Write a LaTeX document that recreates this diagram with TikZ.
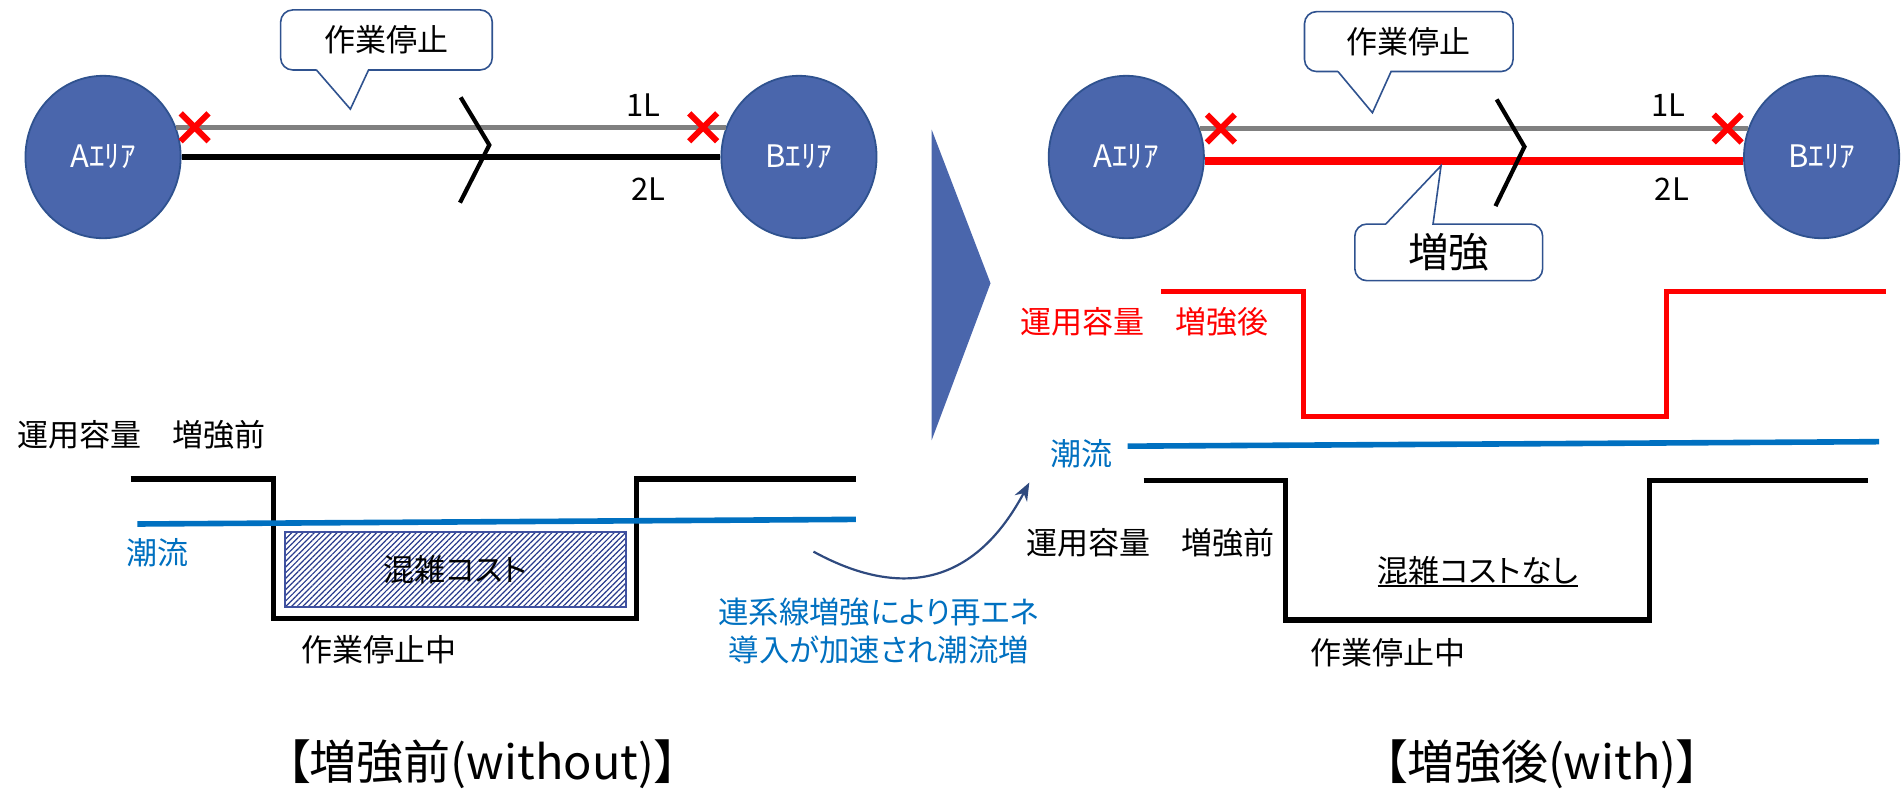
\documentclass[tikz,border=0pt]{standalone}
\usepackage{fontspec}
\setmainfont{Noto Sans CJK JP}[RawFeature={+palt}]
\usetikzlibrary{shapes.geometric,arrows.meta,patterns.meta}

\definecolor{areablue}{RGB}{74,102,172}
\definecolor{areaedge}{RGB}{47,82,143}
\definecolor{flowblue}{RGB}{0,112,192}
\definecolor{hatchblue}{RGB}{40,58,140}
\definecolor{costedge}{RGB}{63,81,160}
\definecolor{arrowblue}{RGB}{47,74,127}
\definecolor{offline}{RGB}{128,128,128}

\tikzset{
  area/.style={ellipse, fill=areablue, draw=areaedge, line width=0.9pt,
    minimum width=77.6pt, minimum height=81.2pt, inner sep=0pt,
    text=white, font=\fontsize{15.5}{18}\selectfont},
  txt/.style={inner sep=0pt, font=\fontsize{15.5}{18}\selectfont},
  titletxt/.style={inner sep=0pt, font=\fontsize{23.5}{28}\selectfont},
  line1/.style={offline, line width=2.4pt},
  line2/.style={black, line width=2.8pt},
  boosted/.style={red, line width=3.8pt},
  cross/.style={red, line width=3pt},
  breakmark/.style={black, line width=2.1pt},
  balloon/.style={draw=areaedge, line width=0.8pt, fill=white},
  capline/.style={line width=2.6pt},
  flowline/.style={flowblue, line width=2.8pt},
  costbox/.style={draw=costedge, line width=1pt,
    pattern={Lines[angle=45,distance=2pt,line width=0.6pt]}, pattern color=hatchblue,
    minimum width=170.8pt, minimum height=37.9pt, inner sep=0pt,
    font=\fontsize{15.5}{18}\selectfont}
}

\begin{document}
\begin{tikzpicture}[x=0.6062pt, y=-0.6062pt]
    \useasboundingbox (0,0) rectangle (1568,652);

    % before reinforcement: network
    \node[area] (aL) at (85,129.5) {Aｴﾘｱ};
    \node[area] (bL) at (659,129.5) {Bｴﾘｱ};
    \draw[line1] (aL.22) -- (bL.158);
    \draw[line2] (aL.east) -- (bL.west);
    \draw[breakmark] (380,80.3) -- (403.6,119.6) -- (379.4,167.2);
    \node[txt] (oneL) at (531,87) {1L};
    \node[txt] (twoL) at (535,156) {2L};
    \draw[balloon] (261,57.7) -- (289,90) -- (304,57.7) [rounded corners=6pt] -- (406,57.7)
        -- (406,8.2) -- (231.5,8.2) -- (231.5,57.7) -- (261,57.7);
    \node[txt] (stopL) at (318.7,33) {作業停止};

    % before reinforcement: capacity and flow
    \node[txt, anchor=west] (capL) at (13.8,358.8) {運用容量　増強前};
    \draw[capline] (107.7,395) -- (225.4,395) -- (225.4,510) -- (524.8,510) -- (524.8,395) -- (706,395);
    \draw[flowline] (113.3,432.2) -- (706,428.4);
    \node[txt, text=flowblue] (flowL) at (130,456) {潮流};
    \node[costbox] (cost) at (375.6,469.8) {混雑コスト};
    \node[txt] (outL) at (313,536) {作業停止中};
    \node[titletxt] (titleL) at (397.7,630) {【増強前(without)】};

    % big arrow and note
    \fill[areablue] (768.5,107) -- (817,233.6) -- (768.5,363) -- cycle;
    \coordinate (arrS) at (671,455);
    \coordinate (arrE) at (849,398);
    \draw[arrowblue, line width=1.1pt, -{Stealth[length=9pt,width=7pt]}]
        (arrS) .. controls (735,490) and (800,490) .. (arrE);
    \node[txt, text=flowblue, align=center, font=\fontsize{15.2}{18.8}\selectfont] (note)
        at (725,520.5) {連系線増強により再エネ\\導入が加速され潮流増};

    % after reinforcement: network
    \node[area] (aR) at (929,129.5) {Aｴﾘｱ};
    \node[area] (bR) at (1502.5,129.5) {Bｴﾘｱ};
    \draw[line1] (aR.21) -- (bR.159);
    \draw[boosted] (aR.-3) -- (bR.183);
    \draw[breakmark] (1234.5,82) -- (1257.4,121) -- (1233.5,170);
    \node[txt] (oneR) at (1376,87) {1L};
    \node[txt] (twoR) at (1379,156) {2L};
    \draw[balloon] (1103.6,59) -- (1132,93) -- (1147.4,59) [rounded corners=6pt] -- (1248,59)
        -- (1248,9.6) -- (1076,9.6) -- (1076,59) -- (1103.6,59);
    \node[txt] (stopR) at (1162,34) {作業停止};
    \draw[balloon] (1143,184.8) -- (1188.6,136.7) -- (1182,184.8) [rounded corners=6pt] -- (1272.4,184.8)
        -- (1272.4,231.5) -- (1117.5,231.5) -- (1117.5,184.8) -- (1143,184.8);
    \node[inner sep=0pt, font=\fontsize{20.3}{24}\selectfont] (boost) at (1195,208) {増強};

    \foreach \x/\y in {160.5/105, 580/105, 1007/106, 1425/106}
        \draw[cross] (\x-11.5,\y-11.5) -- (\x+11.5,\y+11.5) (\x-11.5,\y+11.5) -- (\x+11.5,\y-11.5);

    % after reinforcement: capacity and flow
    \draw[capline, red] (957.5,240.6) -- (1075,240.6) -- (1075,343.7) -- (1374.7,343.7) -- (1374.7,240.6) -- (1555.7,240.6);
    \node[txt, text=red] (capR) at (944.4,265.3) {運用容量　増強後};
    \draw[flowline] (930,368) -- (1550,364.3);
    \node[txt, text=flowblue] (flowR) at (892,374) {潮流};
    \draw[capline] (943.3,396.5) -- (1060.4,396.5) -- (1060.4,511.4) -- (1360.4,511.4) -- (1360.4,396.5) -- (1540.6,396.5);
    \node[txt] (capR2) at (949,448) {運用容量　増強前};
    \node[txt] (nocost) at (1219,471) {混雑コストなし};
    \draw[line width=0.9pt] (nocost.south west) -- (nocost.south east);
    \node[txt] (outR) at (1145,538) {作業停止中};
    \node[titletxt] (titleR) at (1271.8,630) {【増強後(with)】};
\end{tikzpicture}
\end{document}
